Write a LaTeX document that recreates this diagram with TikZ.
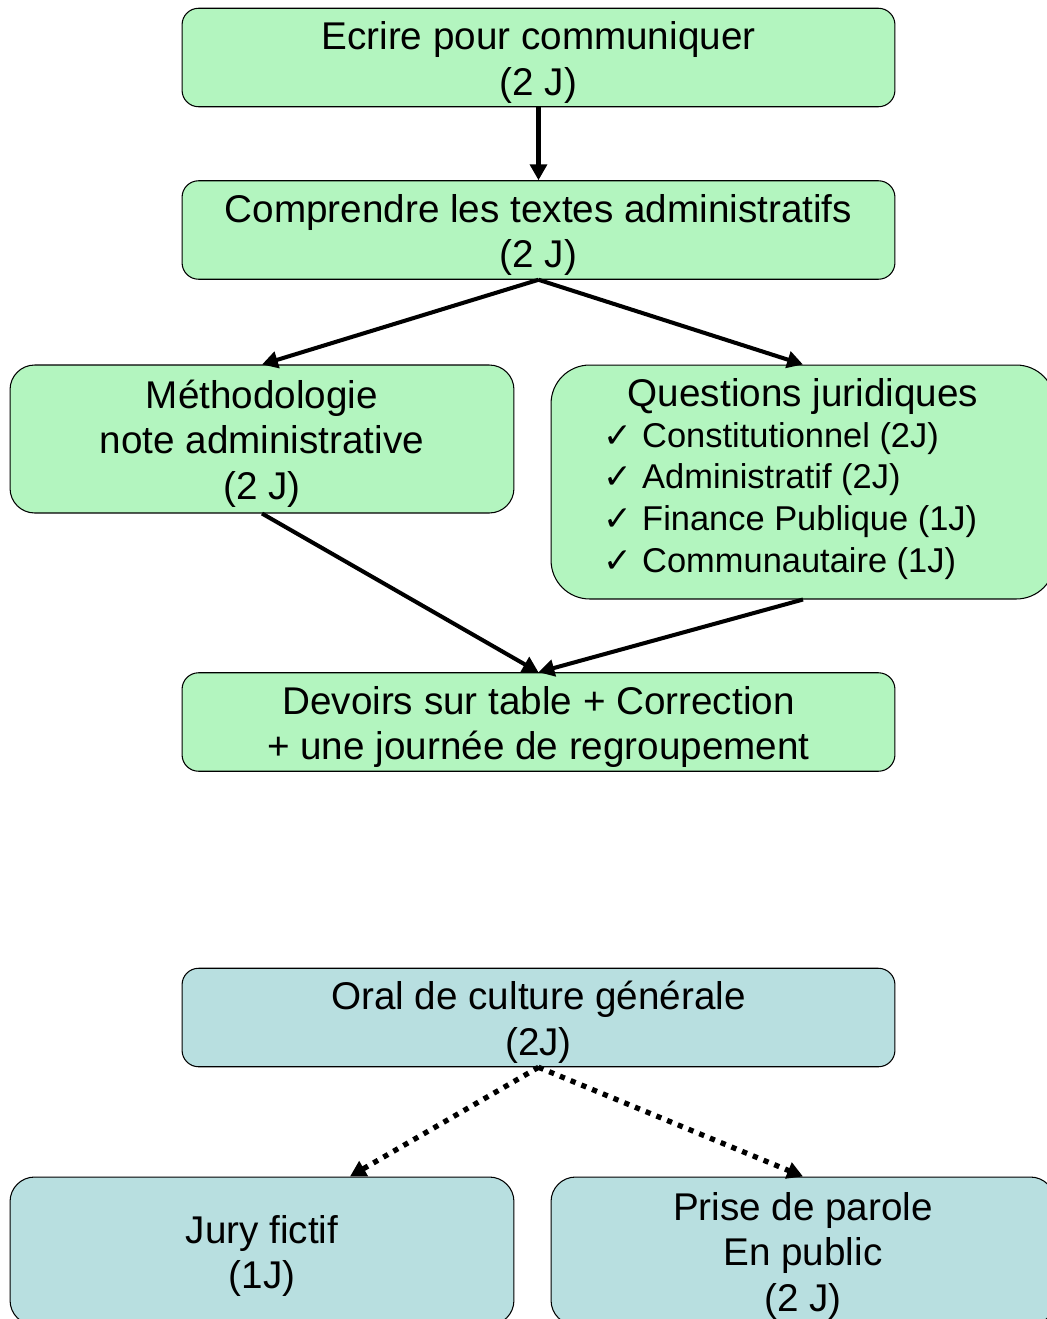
\documentclass[tikz,border=0pt]{standalone}
\usepackage{fontspec}
\setmainfont{Liberation Sans}
\newfontfamily\chkfont{DejaVu Sans}
\usepackage{tikz}
\usetikzlibrary{arrows.meta,positioning}
\definecolor{boxgreen}{RGB}{179,245,191}
\definecolor{boxblue}{RGB}{184,223,224}
\newcommand{\chk}{{\chkfont ✓}}
\newcommand{\topgap}{\rule{0pt}{21.5pt}}

\begin{document}
\begin{tikzpicture}[x=0.02cm,y=-0.02cm,->,>={Triangle[length=9pt,width=9.5pt]},
      line width=2.3pt,
      wide/.style={draw,line width=0.6pt,align=center,inner sep=0pt,
        font=\fontsize{22}{26}\selectfont,minimum width=14.26cm,
        minimum height=1.97cm,rounded corners=9.4pt},
      half/.style={wide,minimum width=10.08cm,
        minimum height=2.96cm,rounded corners=14pt},
      greenbox/.style={fill=boxgreen},
      bluebox/.style={fill=boxblue},
      dots/.style={line width=3pt,dash pattern=on 3pt off 3.6pt}]
        \useasboundingbox (0,0) rectangle (1047,1319);
        \clip (0,0) rectangle (1047,1319);
        % first part
        \node[wide,greenbox] (ecrire) at (538.5,57.5) {\topgap Ecrire pour communiquer\\(2 J)};
        \node[wide,greenbox] (comprendre) at (538.5,230) {\topgap Comprendre les textes administratifs\\(2 J)};
        \node[half,greenbox] (methodo) at (262,439) {\topgap M\'ethodologie\\note administrative\\(2 J)};
        \node[half,greenbox,minimum height=4.68cm,rounded corners=22pt] (questions) at (803,482)
             {Questions juridiques\\[1pt]
              {\fontsize{19.6}{23.8}\selectfont\hspace*{-0.5cm}\begin{tabular}{@{}l@{}}
               \chk\ Constitutionnel (2J)\\
               \chk\ Administratif (2J)\\
               \chk\ Finance Publique (1J)\\
               \chk\ Communautaire (1J)\rule[-7.5pt]{0pt}{1pt}
              \end{tabular}}};
        \node[wide,greenbox] (devoirs) at (538.5,722) {\topgap Devoirs sur table + Correction\\+ une journ\'ee de regroupement};
        % second part
        \node[wide,bluebox] (oral) at (538.5,1017.5) {\topgap Oral de culture g\'en\'erale\\(2J)};
        \node[half,bluebox] (jury) at (262,1251) {\topgap Jury fictif\\(1J)};
        \node[half,bluebox] (prise) at (803,1251) {\topgap Prise de parole\\En public\\(2 J)};
        \path (ecrire.south) edge (comprendre.north)
              (comprendre.south) edge (methodo.north)
              (comprendre.south) edge (questions.north)
              (methodo.south) edge (devoirs.north)
              (questions.south) edge (devoirs.north);
        \path[dots] (oral.south) edge ([xshift=1.76cm]jury.north)
              (oral.south) edge (prise.north);
    \end{tikzpicture}
\end{document}
